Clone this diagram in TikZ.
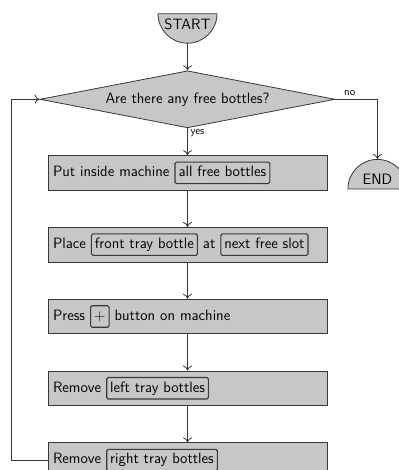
\documentclass[tikz,border=0pt]{standalone}
\usetikzlibrary{chains, calc, positioning, shapes.geometric, arrows.meta}
\colorlet{boxgray}{black!22}
\colorlet{linegray}{black!78}
\tikzset{slot/.style={rectangle,draw=linegray,fill=boxgray,line width=1.1pt,
    rounded corners=1.5pt,text width={},minimum height=0pt,minimum width=0pt,
    inner sep=3.5pt,text height=11pt,text depth=3.5pt}}
\newcommand\slot[1]{\tikz[baseline=(s.base)]\node(s)[slot]{#1};}

\begin{document}
\begin{tikzpicture}[x=1pt,y=1pt,font=\fontsize{15}{18}\sffamily,
  box/.style={draw=linegray,fill=boxgray,thick,text width=269pt,inner xsep=5pt,
    minimum height=34.5pt,align=left},
  term/.style={draw=linegray,fill=boxgray,thick,semicircle,minimum width=59pt,
    inner sep=1pt},
  starter/.style={rectangle,minimum width=60pt,minimum height=30pt,inner sep=0pt,
    text height=10.4pt,text depth=8pt,
    path picture={\draw[draw=linegray,fill=boxgray,thick]
      ($(path picture bounding box.north west)+(0.5,-0.5)$)
      arc[start angle=180,end angle=360,radius=29.5pt] -- cycle;}},
  ask/.style={draw=linegray,fill=boxgray,thick,diamond,aspect=5.2,
    minimum width=295pt,minimum height=57pt,inner sep=1pt},
  arj/.style={thick,draw=linegray,-{To[length=5pt,width=9pt]}},
  lbl/.style={font=\fontsize{11}{13}\sffamily}]
  \useasboundingbox (0,0) rectangle (398,-470);
  \begin{scope}[start chain=A going below,oc/.style={join=by arj,on chain},
    node distance=36.5pt]
   \node(start)[starter,anchor=north,on chain] at (187.5,-13){START};
   \node(q)[ask,node distance=27pt,oc]{Are there any free bottles?};
   \node(put)[box,node distance=27pt,oc]{Put inside machine \slot{all free bottles}};
   \node(place)[box,oc]{Place \slot{front tray bottle} at \slot{next free slot}};
   \node(press)[box,oc]{Press \slot{+} button on machine};
   \node(rm1)[box,oc]{Remove \slot{left tray bottles}};
   \node(rm2)[box,oc]{Remove \slot{right tray bottles}};
  \end{scope}
  \node(end)[term,anchor=chord center] at ($(q.east)+(42,-90)$){END};
  \node(yes)[lbl,anchor=north west,inner sep=1pt] at ([xshift=2pt]q.south){yes};
  \draw[arj] (q.east) -| node[lbl,pos=0.17,above]{no} (end.apex);
  \draw[arj] (rm2.west) -- ++(-36,0) |- (q.west);
\end{tikzpicture}
\end{document}
